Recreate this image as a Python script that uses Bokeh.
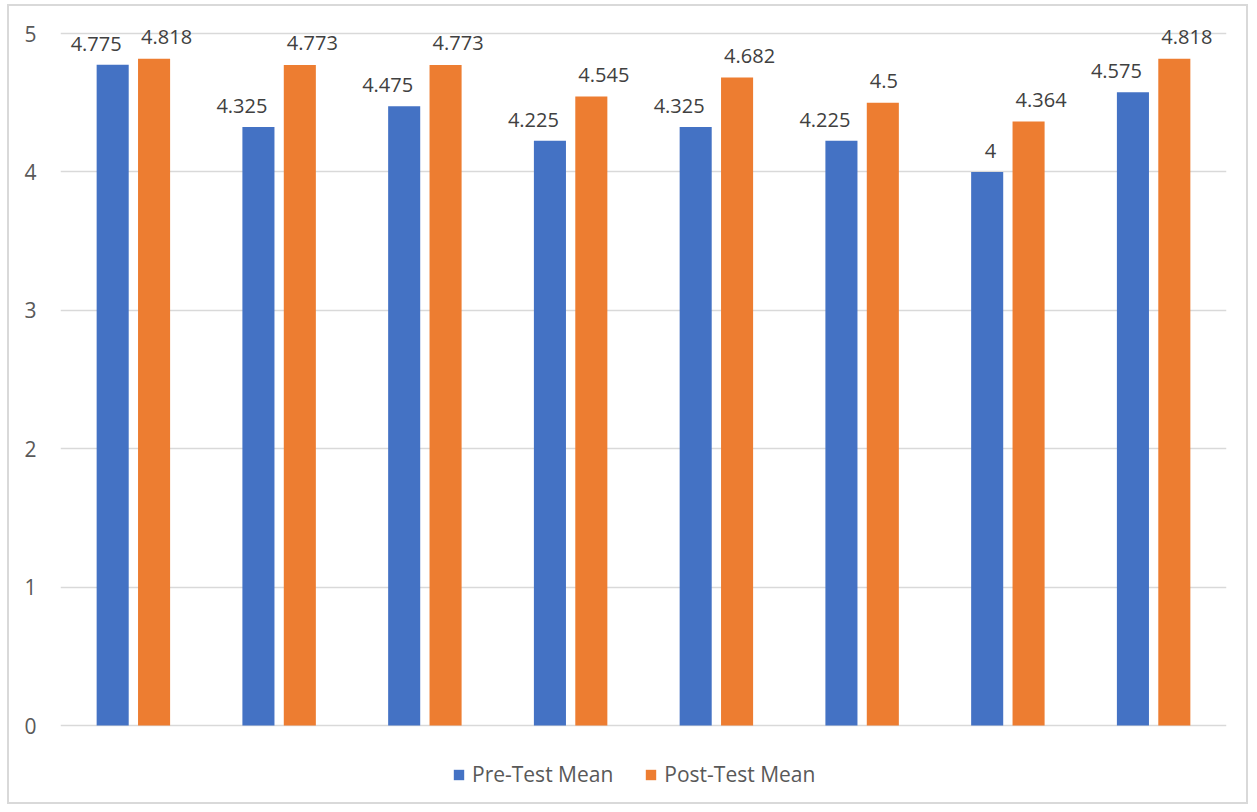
from bokeh.plotting import figure
from bokeh.models import ColumnDataSource, FactorRange, Range1d, FixedTicker, Legend, LegendItem
from bokeh.transform import dodge
from bokeh.core.properties import value
from bokeh.embed import file_html
from bokeh.resources import INLINE

groups = ["1", "2", "3", "4", "5", "6", "7", "8"]
pre_test = [4.775, 4.325, 4.475, 4.225, 4.325, 4.225, 4.0, 4.575]
post_test = [4.818, 4.773, 4.773, 4.545, 4.682, 4.5, 4.364, 4.818]
pre_labels = ["4.775", "4.325", "4.475", "4.225", "4.325", "4.225", "4", "4.575"]
post_labels = ["4.818", "4.773", "4.773", "4.545", "4.682", "4.5", "4.364", "4.818"]
y_ticks = [0, 1, 2, 3, 4, 5]

src = ColumnDataSource(dict(g=groups, pre=pre_test, post=post_test,
                            prel=pre_labels, postl=post_labels))

FONT = "Open Sans"
p = figure(width=1241, height=800, x_range=FactorRange(*groups),
           y_range=Range1d(-0.585, 5.152), output_backend="svg", toolbar_location=None,
           min_border_left=51, min_border_right=24, min_border_top=6, min_border_bottom=0,
           styles={"margin-left": "7px", "margin-top": "4px", "border": "2px solid #d9d9d9"})
p.outline_line_color = None
p.background_fill_color = "white"
p.border_fill_color = "white"

BLUE = "#4472C4"
ORANGE = "#ED7D31"
r1 = p.vbar(x=dodge("g", -0.142, range=p.x_range), top="pre", width=0.22, bottom=0,
            source=src, fill_color=BLUE, line_color=None)
r2 = p.vbar(x=dodge("g", 0.142, range=p.x_range), top="post", width=0.22, bottom=0,
            source=src, fill_color=ORANGE, line_color=None)

p.text(x=dodge("g", -0.142, range=p.x_range), y="pre", text="prel", source=src,
       text_font=value(FONT), text_font_size="20px", text_color="#404040",
       text_align="right", text_baseline="middle", x_offset=9, y_offset=-21)
p.text(x=dodge("g", 0.142, range=p.x_range), y="post", text="postl", source=src,
       text_font=value(FONT), text_font_size="20px", text_color="#404040",
       text_align="left", text_baseline="middle", x_offset=-13, y_offset=-22)

p.xaxis.visible = False
p.xgrid.grid_line_color = None
p.ygrid.grid_line_color = "#d9d9d9"
p.ygrid.grid_line_width = 1.5
p.yaxis.ticker = FixedTicker(ticks=y_ticks)
p.yaxis.axis_line_color = None
p.yaxis.major_tick_line_color = None
p.yaxis.minor_tick_line_color = None
p.yaxis.major_label_text_font = FONT
p.yaxis.major_label_text_font_size = "21px"
p.yaxis.major_label_text_color = "#595959"
p.yaxis.major_label_standoff = 18

legend = Legend(items=[LegendItem(label="Pre-Test Mean", renderers=[r1]),
                       LegendItem(label="Post-Test Mean", renderers=[r2])],
                orientation="horizontal", location=(392, 18),
                label_text_font=FONT, label_text_font_size="21px",
                label_text_color="#595959", glyph_width=13, glyph_height=13,
                label_standoff=7, spacing=31, border_line_color=None,
                background_fill_alpha=0, padding=0, margin=0)
p.add_layout(legend, "center")

open("out.html", "w").write(file_html(p, INLINE))
